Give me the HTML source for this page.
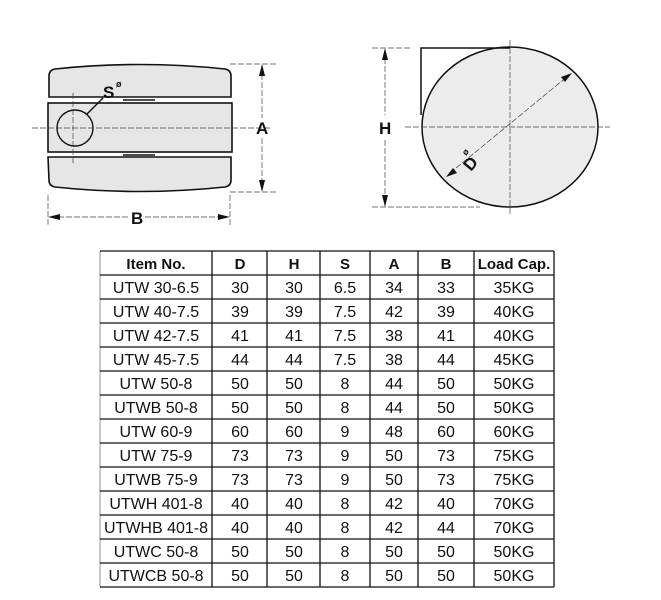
<!DOCTYPE html>
<html><head><meta charset="utf-8"><style>body{margin:0;background:#fff}svg{display:block}</style></head><body>
<svg width="661" height="600" xmlns="http://www.w3.org/2000/svg" font-family="Liberation Sans, sans-serif">
<!-- left drawing -->
<g stroke="#111" stroke-width="1.6" fill="#e6e6e6">
<path d="M55,69 Q140,60 225,69 Q231,70 231,76 L231,97 L49,97 L49,76 Q49,70 55,69 Z"/>
<rect x="48" y="103" width="184" height="49"/>
<path d="M48,157 L231,157 L231,180 Q231,186 225,187 Q140,196 55,187 Q49,186 49,180 Z"/>
</g>
<g stroke="#111" stroke-width="1.4" fill="none">
<line x1="123" y1="100" x2="155" y2="100"/><line x1="123" y1="155" x2="155" y2="155"/>
<circle cx="75" cy="128" r="18"/>
<line x1="87" y1="114" x2="103" y2="98"/>
</g>
<g stroke="#444" stroke-width="0.7" stroke-dasharray="6,2" fill="none">
<line x1="32" y1="128" x2="270" y2="128"/><line x1="73" y1="93" x2="73" y2="163"/>
<line x1="230" y1="64" x2="278" y2="64"/><line x1="230" y1="192" x2="278" y2="192"/>
<line x1="48" y1="195" x2="48" y2="225"/><line x1="230" y1="195" x2="230" y2="225"/>
<line x1="262" y1="66" x2="262" y2="118"/><line x1="262" y1="138" x2="262" y2="190"/>
<line x1="50" y1="217" x2="128" y2="217"/><line x1="145" y1="217" x2="228" y2="217"/>
</g>
<g fill="#111">
<polygon points="262,64 259,76 265,76"/><polygon points="262,192 259,180 265,180"/>
<polygon points="48,217 60,214 60,220"/><polygon points="230,217 218,214 218,220"/>
</g>
<g font-weight="bold" font-size="17" fill="#111">
<text x="103" y="98">S</text><text x="116" y="87" font-size="9">ø</text>
<text x="256" y="134">A</text><text x="131" y="224">B</text>
</g>
<!-- right drawing -->
<g stroke="#111" stroke-width="1.5">
<ellipse cx="510" cy="127" rx="88" ry="80" fill="#ececec"/>
<polyline points="421,115 421,48 510,48" fill="none"/>
</g>
<g stroke="#444" stroke-width="0.7" stroke-dasharray="6,2" fill="none">
<line x1="510" y1="40" x2="510" y2="215"/><line x1="405" y1="127" x2="610" y2="127"/>
<line x1="372" y1="48" x2="410" y2="48"/><line x1="372" y1="207" x2="480" y2="207"/>
<line x1="385" y1="50" x2="385" y2="115"/><line x1="385" y1="140" x2="385" y2="205"/>
<line x1="450" y1="173" x2="568" y2="76"/>
</g>
<g fill="#111">
<polygon points="385,48 382,60 388,60"/><polygon points="385,207 382,195 388,195"/>
<polygon points="572,73 561,77 565,82"/><polygon points="446,177 457,173 453,168"/>
</g>
<g font-weight="bold" font-size="17" fill="#111">
<text x="379" y="134">H</text>
<text x="0" y="0" transform="translate(471,172) rotate(-50)">D</text>
<text x="0" y="0" font-size="9" transform="translate(466,156) rotate(-50)">ø</text>
</g>
<!-- table -->
<g stroke="#111" stroke-width="1.3">
<line x1="100" y1="251" x2="100" y2="587" stroke="#aaa"/>
<line x1="212" y1="251" x2="212" y2="587"/><line x1="267" y1="251" x2="267" y2="587"/>
<line x1="320" y1="251" x2="320" y2="587"/><line x1="370" y1="251" x2="370" y2="587"/>
<line x1="418" y1="251" x2="418" y2="587"/><line x1="474" y1="251" x2="474" y2="587"/>
<line x1="554" y1="251" x2="554" y2="587"/>
<path d="M100,251H554M100,275H554M100,299H554M100,323H554M100,347H554M100,371H554M100,395H554M100,419H554M100,443H554M100,467H554M100,491H554M100,515H554M100,539H554M100,563H554M100,587H554"/>
</g>
<g font-size="16" fill="#111" text-anchor="middle">
<g font-weight="bold" font-size="15"><text x="156" y="269">Item No.</text><text x="240" y="269">D</text><text x="294" y="269">H</text><text x="345" y="269">S</text><text x="394" y="269">A</text><text x="446" y="269">B</text><text x="514" y="269">Load Cap.</text></g>
<text x="156" y="293">UTW 30-6.5</text><text x="240" y="293">30</text><text x="294" y="293">30</text><text x="345" y="293">6.5</text><text x="394" y="293">34</text><text x="446" y="293">33</text><text x="514" y="293">35KG</text>
<text x="156" y="317">UTW 40-7.5</text><text x="240" y="317">39</text><text x="294" y="317">39</text><text x="345" y="317">7.5</text><text x="394" y="317">42</text><text x="446" y="317">39</text><text x="514" y="317">40KG</text>
<text x="156" y="341">UTW 42-7.5</text><text x="240" y="341">41</text><text x="294" y="341">41</text><text x="345" y="341">7.5</text><text x="394" y="341">38</text><text x="446" y="341">41</text><text x="514" y="341">40KG</text>
<text x="156" y="365">UTW 45-7.5</text><text x="240" y="365">44</text><text x="294" y="365">44</text><text x="345" y="365">7.5</text><text x="394" y="365">38</text><text x="446" y="365">44</text><text x="514" y="365">45KG</text>
<text x="156" y="389">UTW 50-8</text><text x="240" y="389">50</text><text x="294" y="389">50</text><text x="345" y="389">8</text><text x="394" y="389">44</text><text x="446" y="389">50</text><text x="514" y="389">50KG</text>
<text x="156" y="413">UTWB 50-8</text><text x="240" y="413">50</text><text x="294" y="413">50</text><text x="345" y="413">8</text><text x="394" y="413">44</text><text x="446" y="413">50</text><text x="514" y="413">50KG</text>
<text x="156" y="437">UTW 60-9</text><text x="240" y="437">60</text><text x="294" y="437">60</text><text x="345" y="437">9</text><text x="394" y="437">48</text><text x="446" y="437">60</text><text x="514" y="437">60KG</text>
<text x="156" y="461">UTW 75-9</text><text x="240" y="461">73</text><text x="294" y="461">73</text><text x="345" y="461">9</text><text x="394" y="461">50</text><text x="446" y="461">73</text><text x="514" y="461">75KG</text>
<text x="156" y="485">UTWB 75-9</text><text x="240" y="485">73</text><text x="294" y="485">73</text><text x="345" y="485">9</text><text x="394" y="485">50</text><text x="446" y="485">73</text><text x="514" y="485">75KG</text>
<text x="156" y="509">UTWH 401-8</text><text x="240" y="509">40</text><text x="294" y="509">40</text><text x="345" y="509">8</text><text x="394" y="509">42</text><text x="446" y="509">40</text><text x="514" y="509">70KG</text>
<text x="156" y="533">UTWHB 401-8</text><text x="240" y="533">40</text><text x="294" y="533">40</text><text x="345" y="533">8</text><text x="394" y="533">42</text><text x="446" y="533">44</text><text x="514" y="533">70KG</text>
<text x="156" y="557">UTWC 50-8</text><text x="240" y="557">50</text><text x="294" y="557">50</text><text x="345" y="557">8</text><text x="394" y="557">50</text><text x="446" y="557">50</text><text x="514" y="557">50KG</text>
<text x="156" y="581">UTWCB 50-8</text><text x="240" y="581">50</text><text x="294" y="581">50</text><text x="345" y="581">8</text><text x="394" y="581">50</text><text x="446" y="581">50</text><text x="514" y="581">50KG</text>
</g>
</svg>
</body></html>
